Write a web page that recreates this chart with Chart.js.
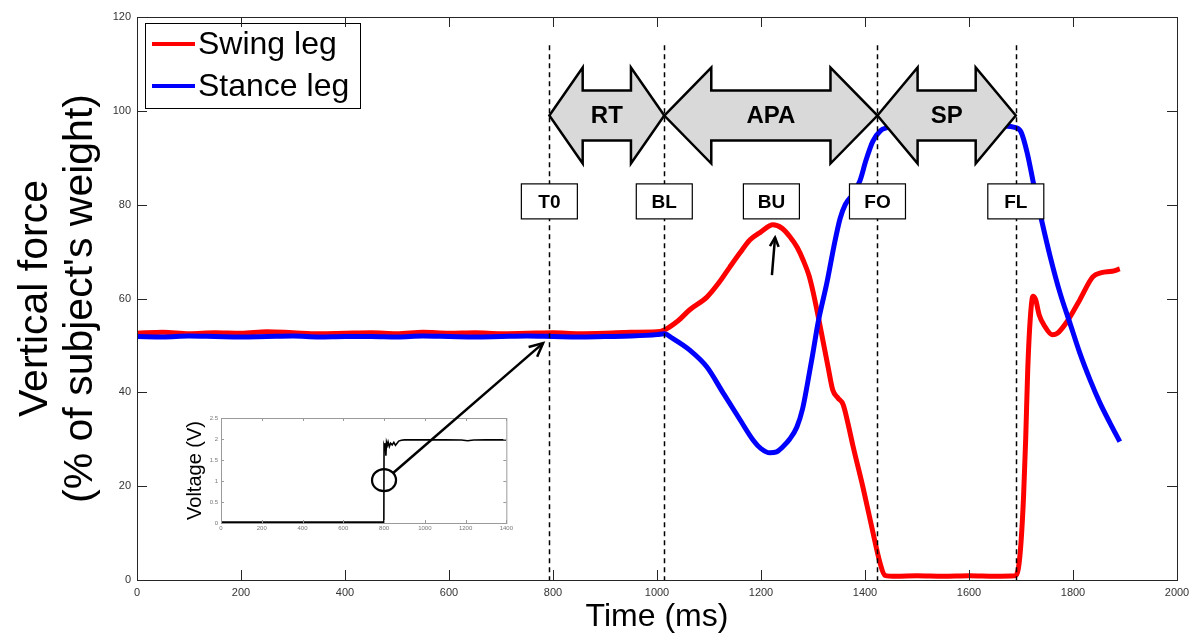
<!DOCTYPE html>
<html>
<head>
<meta charset="utf-8">
<script src="https://cdn.jsdelivr.net/npm/chart.js@4.4.1/dist/chart.umd.min.js"></script>
<style>
  body { margin: 0; background: #fff; }
  #wrap { position: relative; width: 1201px; height: 639px; }
  #main { position: absolute; left: 0; top: 0; }
  #insetBox { position: absolute; left: 180px; top: 408px; width: 335px; height: 130px; background: #fff; }
  #overlay { position: absolute; left: 0; top: 0; pointer-events: none; }
</style>
</head>
<body>
<div id="wrap">
  <canvas id="main" width="1201" height="639"></canvas>
  <div id="insetBox"><canvas id="inset" width="335" height="130"></canvas></div>
  <canvas id="overlay" width="1201" height="639"></canvas>
</div>
<script>
const FONT = "'Liberation Sans', Arial, sans-serif";

// ground reaction force, % body weight
const swingTime = [0, 50, 100, 150, 200, 250, 300, 350, 400, 450, 500, 550, 600, 650, 700, 750, 800, 850, 900, 950, 1000,
  1014, 1040, 1063, 1096, 1120, 1140, 1160, 1179, 1200, 1223, 1240, 1256, 1270, 1281, 1292, 1300, 1313, 1329, 1338, 1348,
  1358, 1367, 1377, 1396, 1413, 1429, 1438, 1460, 1500, 1550, 1600, 1650, 1688, 1695, 1700, 1705, 1709, 1713, 1718, 1723,
  1728, 1735, 1745, 1760, 1770, 1788, 1813, 1838, 1855, 1875, 1890];
const swingForce = [52.6, 52.8, 52.5, 52.7, 52.6, 52.9, 52.7, 52.5, 52.6, 52.7, 52.5, 52.8, 52.6, 52.7, 52.5, 52.6, 52.7, 52.5, 52.6, 52.8, 52.9,
  53.3, 55.2, 57.6, 60.3, 63.5, 66.7, 69.8, 72.5, 74.2, 75.7, 75.0, 73.1, 70.8, 68.2, 65.0, 61.5, 54.5, 45.4, 40.5, 38.8,
  37.4, 33.5, 28.5, 19.8, 11.3, 3.6, 1.0, 0.8, 0.9, 0.8, 0.9, 0.8, 0.9, 2.5, 8, 18, 30, 45, 56, 60.5,
  59.8, 56.5, 54.2, 52.3, 52.6, 55.0, 59.7, 64.6, 65.5, 65.8, 66.3];

const stanceTime = [0, 50, 100, 150, 200, 250, 300, 350, 400, 450, 500, 550, 600, 650, 700, 750, 800, 850, 900, 950, 1000,
  1014, 1030, 1063, 1096, 1127, 1160, 1185, 1200, 1217, 1230, 1242, 1255, 1269, 1280, 1288, 1300, 1310, 1327, 1340, 1352,
  1362, 1375, 1390, 1402, 1415, 1430, 1442, 1470, 1520, 1570, 1620, 1660, 1690, 1700, 1712, 1725, 1740, 1756, 1775, 1794,
  1813, 1833, 1852, 1871, 1890];
const stanceForce = [51.9, 51.8, 52.0, 51.9, 51.8, 51.9, 52.0, 51.8, 51.9, 51.9, 51.8, 52.0, 51.9, 51.8, 51.9, 52.0, 51.9, 51.8, 51.9, 52.0, 52.3,
  52.5, 51.5, 49.0, 45.4, 39.9, 34.1, 29.8, 28.0, 27.1, 27.3, 28.4, 30.0, 32.6, 36.5, 41.0, 48.5, 55.0, 63.5, 71.0, 77.0,
  80.0, 82.0, 85.0, 89.5, 93.5, 95.8, 96.4, 97.0, 97.3, 97.2, 97.0, 96.8, 96.4, 95.5, 91.0, 84.0, 76.5, 69.0, 61.2, 54.8,
  48.4, 42.6, 37.7, 33.5, 29.5];

// gait events and phases (ms)
const eventNames = ["T0", "BL", "BU", "FO", "FL"];
const eventTimes = [793, 1014, 1220, 1424, 1690];
const eventDashed = [true, true, false, true, true];
const phaseNames = ["RT", "APA", "SP"];
const phaseFrom = [793, 1014, 1424];
const phaseTo = [1014, 1424, 1690];

// trigger voltage (inset)
const voltTime = [0, 200, 400, 600, 799, 800, 803, 806, 809, 812, 816, 820, 826, 832, 840, 848, 856, 864, 872, 885,
  900, 1000, 1100, 1180, 1210, 1240, 1300, 1400];
const voltValue = [0.02, 0.02, 0.02, 0.02, 0.02, 1.85, 1.8, 1.9, 1.6, 1.92, 1.85, 1.93, 1.82, 1.9, 1.86, 1.92, 1.85, 1.9, 1.95, 1.97,
  1.98, 1.98, 1.98, 1.975, 1.96, 1.975, 1.98, 1.98];

function toPoints(xs, ys) {
  return xs.map((x, i) => ({ x: x, y: ys[i] }));
}

// plain numbers, no thousands separator
const plainLabel = v => String(v);

function arrowHead(ctx, x, y, ang, len, spread) {
  ctx.beginPath();
  ctx.moveTo(x - len * Math.cos(ang - spread), y - len * Math.sin(ang - spread));
  ctx.lineTo(x, y);
  ctx.lineTo(x - len * Math.cos(ang + spread), y - len * Math.sin(ang + spread));
  ctx.stroke();
}

// frame with inward ticks on all four sides
function drawFrame(chart, color, tick) {
  const ctx = chart.ctx;
  const a = chart.chartArea;
  ctx.save();
  ctx.strokeStyle = color;
  ctx.lineWidth = 1;
  ctx.strokeRect(a.left + 0.5, a.top + 0.5, a.right - a.left, a.bottom - a.top);
  ctx.beginPath();
  chart.scales.x.ticks.forEach(t => {
    const x = Math.round(chart.scales.x.getPixelForValue(t.value)) + 0.5;
    ctx.moveTo(x, a.bottom); ctx.lineTo(x, a.bottom - tick);
    ctx.moveTo(x, a.top); ctx.lineTo(x, a.top + tick);
  });
  chart.scales.y.ticks.forEach(t => {
    const y = Math.round(chart.scales.y.getPixelForValue(t.value)) + 0.5;
    ctx.moveTo(a.left, y); ctx.lineTo(a.left + tick, y);
    ctx.moveTo(a.right, y); ctx.lineTo(a.right - tick, y);
  });
  ctx.stroke();
  ctx.restore();
}

const gaitMarks = {
  id: 'gaitMarks',
  afterDatasetsDraw(chart) {
    const ctx = chart.ctx;
    const xs = chart.scales.x, ys = chart.scales.y;
    const a = chart.chartArea;
    ctx.save();

    // dashed event lines
    ctx.strokeStyle = '#000';
    ctx.lineWidth = 1.5;
    ctx.setLineDash([5, 4]);
    eventTimes.forEach((t, i) => {
      if (!eventDashed[i]) return;
      const x = Math.round(xs.getPixelForValue(t)) + 0.5;
      ctx.beginPath();
      ctx.moveTo(x, ys.getPixelForValue(114));
      ctx.lineTo(x, a.bottom);
      ctx.stroke();
    });
    ctx.setLineDash([]);

    // double-headed phase arrows
    const cy = ys.getPixelForValue(99);
    const H = 48, B = 25;
    phaseNames.forEach((name, i) => {
      const x0 = xs.getPixelForValue(phaseFrom[i]);
      const x1 = xs.getPixelForValue(phaseTo[i]);
      const h = Math.min(47, 0.29 * (x1 - x0));
      ctx.beginPath();
      ctx.moveTo(x0, cy);
      ctx.lineTo(x0 + h, cy - H); ctx.lineTo(x0 + h, cy - B);
      ctx.lineTo(x1 - h, cy - B); ctx.lineTo(x1 - h, cy - H);
      ctx.lineTo(x1, cy);
      ctx.lineTo(x1 - h, cy + H); ctx.lineTo(x1 - h, cy + B);
      ctx.lineTo(x0 + h, cy + B); ctx.lineTo(x0 + h, cy + H);
      ctx.closePath();
      ctx.fillStyle = '#d9d9d9';
      ctx.fill();
      ctx.lineWidth = 2.5;
      ctx.lineJoin = 'miter';
      ctx.strokeStyle = '#000';
      ctx.stroke();
      ctx.fillStyle = '#000';
      ctx.font = 'bold 24px ' + FONT;
      ctx.textAlign = 'center';
      ctx.textBaseline = 'middle';
      ctx.fillText(name, (x0 + x1) / 2, cy + 1);
    });

    // event label boxes
    const by = ys.getPixelForValue(80.7);
    eventNames.forEach((name, i) => {
      const x = xs.getPixelForValue(eventTimes[i]);
      const w = 56, hgt = 35;
      ctx.fillStyle = '#fff';
      ctx.fillRect(x - w / 2, by - hgt / 2, w, hgt);
      ctx.lineWidth = 1.2;
      ctx.strokeStyle = '#000';
      ctx.strokeRect(x - w / 2, by - hgt / 2, w, hgt);
      ctx.fillStyle = '#000';
      ctx.font = 'bold 19px ' + FONT;
      ctx.textAlign = 'center';
      ctx.textBaseline = 'middle';
      ctx.fillText(name, x, by + 1);
    });

    // arrow pointing at the swing-leg peak
    const sx = xs.getPixelForValue(1221), sy = ys.getPixelForValue(65);
    const ex = xs.getPixelForValue(1227), ey = ys.getPixelForValue(73);
    ctx.strokeStyle = '#000';
    ctx.lineWidth = 2.5;
    ctx.beginPath();
    ctx.moveTo(sx, sy); ctx.lineTo(ex, ey);
    ctx.stroke();
    arrowHead(ctx, ex, ey, Math.atan2(ey - sy, ex - sx), 10, 0.45);

    // legend
    const lx = a.left + 8, ly = a.top + 6;
    ctx.fillStyle = '#fff';
    ctx.fillRect(lx, ly, 215, 85);
    ctx.lineWidth = 1;
    ctx.strokeStyle = '#000';
    ctx.strokeRect(lx + 0.5, ly + 0.5, 215, 85);
    chart.data.datasets.forEach((ds, i) => {
      const rowY = ly + 21 + i * 42;
      ctx.strokeStyle = ds.borderColor;
      ctx.lineWidth = 4;
      ctx.beginPath();
      ctx.moveTo(lx + 7, rowY); ctx.lineTo(lx + 50, rowY);
      ctx.stroke();
      ctx.fillStyle = '#000';
      ctx.font = '32px ' + FONT;
      ctx.textAlign = 'left';
      ctx.textBaseline = 'middle';
      ctx.fillText(ds.label, lx + 53, rowY + 1);
    });

    ctx.restore();
    drawFrame(chart, '#262626', 10);
  }
};

const mainChart = new Chart(document.getElementById('main'), {
  type: 'line',
  data: {
    datasets: [
      { label: 'Swing leg', data: toPoints(swingTime, swingForce), borderColor: '#ff0000', borderWidth: 5,
        pointRadius: 0, cubicInterpolationMode: 'monotone', order: 1 },
      { label: 'Stance leg', data: toPoints(stanceTime, stanceForce), borderColor: '#0000ff', borderWidth: 5,
        pointRadius: 0, cubicInterpolationMode: 'monotone', order: 0 }
    ]
  },
  options: {
    responsive: false,
    animation: false,
    events: [],
    layout: { padding: { top: 17, right: 24, left: 0, bottom: 0 } },
    plugins: { legend: { display: false }, tooltip: { enabled: false } },
    scales: {
      x: {
        type: 'linear', min: 0, max: 2000,
        ticks: { stepSize: 200, autoSkip: false, maxRotation: 0, padding: 6, color: '#333', font: { size: 11, family: FONT }, callback: plainLabel },
        grid: { display: false, drawTicks: false },
        border: { display: false },
        title: { display: true, text: 'Time (ms)', color: '#000', font: { size: 32, family: FONT }, padding: { top: 0, bottom: 3 } },
        afterFit: s => { s.height = 59; }
      },
      y: {
        min: 0, max: 120,
        ticks: { stepSize: 20, padding: 6, color: '#333', font: { size: 11, family: FONT }, callback: plainLabel },
        grid: { display: false, drawTicks: false },
        border: { display: false },
        title: { display: true, text: ['Vertical force', "(% of subject's weight)"], color: '#000',
          font: { size: 41, family: FONT, lineHeight: 1.08 }, padding: { top: 14, bottom: 0 } },
        afterFit: s => { s.width = 137; }
      }
    }
  },
  plugins: [gaitMarks]
});

const insetFrame = {
  id: 'insetFrame',
  afterDatasetsDraw(chart) { drawFrame(chart, '#9a9a9a', 3); }
};

const insetChart = new Chart(document.getElementById('inset'), {
  type: 'line',
  data: {
    datasets: [{ data: toPoints(voltTime, voltValue), borderColor: '#000', borderWidth: 1.6, pointRadius: 0, tension: 0 }]
  },
  options: {
    responsive: false,
    animation: false,
    events: [],
    layout: { padding: { top: 10, right: 8, left: 0, bottom: 0 } },
    plugins: { legend: { display: false }, tooltip: { enabled: false } },
    scales: {
      x: {
        type: 'linear', min: 0, max: 1400,
        ticks: { stepSize: 200, autoSkip: false, maxRotation: 0, padding: 2, color: '#777', font: { size: 6, family: FONT }, callback: plainLabel },
        grid: { display: false, drawTicks: false },
        border: { display: false },
        afterFit: s => { s.height = 15; }
      },
      y: {
        min: 0, max: 2.5,
        ticks: { stepSize: 0.5, padding: 3, color: '#777', font: { size: 6, family: FONT }, callback: plainLabel },
        grid: { display: false, drawTicks: false },
        border: { display: false },
        title: { display: true, text: 'Voltage (V)', color: '#000', font: { size: 20, family: FONT }, padding: { top: 3, bottom: 0 } },
        afterFit: s => { s.width = 41; }
      }
    }
  },
  plugins: [insetFrame]
});

// circle on the trigger edge and the arrow to the force onset
function drawOverlay() {
  const ctx = document.getElementById('overlay').getContext('2d');
  const box = document.getElementById('insetBox');
  const cx = box.offsetLeft + insetChart.scales.x.getPixelForValue(800);
  const cy = box.offsetTop + insetChart.scales.y.getPixelForValue(1.02);
  const tx = mainChart.scales.x.getPixelForValue(781);
  const ty = mainChart.scales.y.getPixelForValue(50.5);
  const rx = 12, ry = 11;
  ctx.strokeStyle = '#000';
  ctx.lineWidth = 2.2;
  ctx.beginPath();
  ctx.ellipse(cx, cy, rx, ry, 0, 0, Math.PI * 2);
  ctx.stroke();
  const ang = Math.atan2(ty - cy, tx - cx);
  ctx.lineWidth = 2.5;
  ctx.beginPath();
  ctx.moveTo(cx + rx * Math.cos(ang), cy + ry * Math.sin(ang));
  ctx.lineTo(tx, ty);
  ctx.stroke();
  arrowHead(ctx, tx, ty, ang, 15, 0.45);
}
drawOverlay();
</script>
</body>
</html>
